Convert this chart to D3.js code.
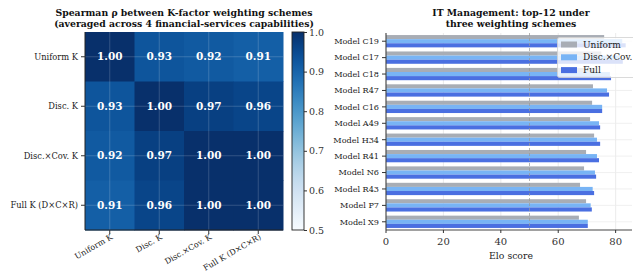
<!DOCTYPE html>
<html><head><meta charset="utf-8">
<script src="https://cdn.jsdelivr.net/npm/d3@7"></script>
<style>
html,body{margin:0;padding:0;background:#fff;}
svg{display:block;font-family:"DejaVu Serif",serif;}
</style></head>
<body><svg id="c" width="633" height="274"></svg>
<script>
// ---- data ----
const schemes = ["Uniform K", "Disc. K", "Disc.×Cov. K", "Full K (D×C×R)"];
const rho = [
  [1.00, 0.93, 0.92, 0.91],
  [0.93, 1.00, 0.97, 0.96],
  [0.92, 0.97, 1.00, 1.00],
  [0.91, 0.96, 1.00, 1.00]
];
const cbTicks = [0.5, 0.6, 0.7, 0.8, 0.9, 1.0];
const models = ["Model C19","Model C17","Model C18","Model R47","Model C16","Model A49",
                "Model H34","Model R41","Model N6","Model R43","Model P7","Model X9"];
const uniform = [76.0, 75.0, 73.0, 72.1, 71.8, 71.1, 72.5, 69.7, 69.0, 67.6, 69.7, 67.2];
const discCov = [82.3, 81.5, 78.0, 77.0, 75.3, 74.2, 73.5, 73.5, 72.8, 72.0, 71.3, 70.3];
const full    = [83.5, 82.5, 78.4, 77.7, 75.3, 74.6, 74.6, 74.2, 73.2, 72.5, 71.7, 70.3];
const seriesNames = ["Uniform", "Disc.×Cov.", "Full"];
const xTicks = [0, 20, 40, 60, 80];
const refLine = 50;

const svg = d3.select("#c");
const colors = ["#a8adb5", "#78b4f5", "#4a6fe1"];

// ---------- Heatmap ----------
const H = {l:85, r:283, t:32, b:230};
const hx = d3.scaleBand().domain(d3.range(4)).range([H.l, H.r]);
const hy = d3.scaleBand().domain(d3.range(4)).range([H.t, H.b]);
const cscale = d3.scaleSequential(d3.interpolateBlues).domain([0.5, 1.0]);
const hm = svg.append("g");
rho.forEach((row, i) => row.forEach((v, j) => {
  hm.append("rect").attr("x", hx(j)).attr("y", hy(i))
    .attr("width", hx.bandwidth()+0.5).attr("height", hy.bandwidth()+0.5)
    .attr("fill", cscale(v));
}));
d3.range(4).forEach(k => {
  hm.append("line").attr("x1", hx(k)+hx.bandwidth()/2).attr("x2", hx(k)+hx.bandwidth()/2)
    .attr("y1", H.t).attr("y2", H.b).attr("stroke", "#fff").attr("stroke-opacity", 0.22).attr("stroke-width", 0.8);
  hm.append("line").attr("y1", hy(k)+hy.bandwidth()/2).attr("y2", hy(k)+hy.bandwidth()/2)
    .attr("x1", H.l).attr("x2", H.r).attr("stroke", "#fff").attr("stroke-opacity", 0.22).attr("stroke-width", 0.8);
});
rho.forEach((row, i) => row.forEach((v, j) => {
  hm.append("text").attr("x", hx(j)+hx.bandwidth()/2).attr("y", hy(i)+hy.bandwidth()/2)
    .attr("dy", "0.35em").attr("text-anchor", "middle").attr("fill", "#fff")
    .attr("font-weight", "bold").attr("font-size", 10.5).text(v.toFixed(2));
}));
hm.append("line").attr("x1", H.l).attr("x2", H.l).attr("y1", H.t).attr("y2", H.b).attr("stroke", "#222").attr("stroke-width", 1);
hm.append("line").attr("x1", H.l).attr("x2", H.r).attr("y1", H.b).attr("y2", H.b).attr("stroke", "#222").attr("stroke-width", 1);
schemes.forEach((s, i) => {
  const y = hy(i)+hy.bandwidth()/2;
  hm.append("line").attr("x1", H.l-4).attr("x2", H.l).attr("y1", y).attr("y2", y).attr("stroke", "#333");
  hm.append("text").attr("x", H.l-7).attr("y", y).attr("dy", "0.35em").attr("text-anchor", "end")
    .attr("font-size", 8.3).attr("fill", "#222").text(s);
});
schemes.forEach((s, j) => {
  const x = hx(j)+hx.bandwidth()/2;
  hm.append("line").attr("x1", x).attr("x2", x).attr("y1", H.b).attr("y2", H.b+4).attr("stroke", "#333");
  hm.append("text").attr("transform", `translate(${x+2},${H.b+6}) rotate(-30)`)
    .attr("text-anchor", "end").attr("dy", "0.35em")
    .attr("font-size", 8).attr("fill", "#222").text(s);
});
const t1 = svg.append("text").attr("x", 184).attr("y", 16).attr("text-anchor", "middle")
  .attr("font-weight", "bold").attr("font-size", 9.3).attr("fill", "#111");
t1.append("tspan").attr("x", 184).text("Spearman ρ between K-factor weighting schemes");
t1.append("tspan").attr("x", 184).attr("dy", 10.5).text("(averaged across 4 financial-services capabilities)");

// colorbar
const CB = {l:292, r:304, t:32, b:230};
const cy = d3.scaleLinear().domain([0.5, 1.0]).range([CB.b, CB.t]);
const defs = svg.append("defs");
const grad = defs.append("linearGradient").attr("id", "cbg").attr("x1", 0).attr("x2", 0).attr("y1", 1).attr("y2", 0);
d3.range(0, 1.0001, 0.05).forEach(f => {
  grad.append("stop").attr("offset", f).attr("stop-color", cscale(0.5 + 0.5*f));
});
svg.append("rect").attr("x", CB.l).attr("y", CB.t).attr("width", CB.r-CB.l).attr("height", CB.b-CB.t)
  .attr("fill", "url(#cbg)").attr("stroke", "#222").attr("stroke-width", 0.9);
svg.append("g").attr("transform", `translate(${CB.r},0)`)
  .call(d3.axisRight(cy).tickValues(cbTicks).tickFormat(d3.format(".1f")).tickSize(3).tickPadding(2))
  .call(g => g.select(".domain").remove())
  .call(g => g.selectAll("text").attr("font-family", "DejaVu Serif").attr("font-size", 9.5).attr("fill", "#333"))
  .call(g => g.selectAll("line").attr("stroke", "#333"));

// ---------- Bar chart ----------
const B = {l:386, r:632, t:33, b:230};
const bx = d3.scaleLinear().domain([0, 85.7]).range([B.l, B.r]);
const by = d3.scaleBand().domain(models).range([B.t, B.b]).paddingOuter(0.0).paddingInner(0);
const bw = by.bandwidth();
const barH = bw * 0.25;
const bc = svg.append("g");
xTicks.forEach(t => bc.append("line").attr("x1", bx(t)).attr("x2", bx(t)).attr("y1", B.t).attr("y2", B.b)
  .attr("stroke", "#e6e6e6").attr("stroke-width", 0.8));
models.forEach(m => bc.append("line").attr("x1", B.l).attr("x2", B.r)
  .attr("y1", by(m)+bw/2).attr("y2", by(m)+bw/2).attr("stroke", "#ececec").attr("stroke-width", 0.8));
const series = [uniform, discCov, full];
series.forEach((vals, s) => {
  bc.selectAll(null).data(models).enter().append("rect")
    .attr("x", bx(0)).attr("y", (m, i) => by(m) + bw/2 - 1.5*barH + s*barH)
    .attr("width", (m, i) => bx(vals[i]) - bx(0)).attr("height", barH)
    .attr("fill", colors[s]);
});
bc.append("line").attr("x1", bx(refLine)).attr("x2", bx(refLine)).attr("y1", B.t).attr("y2", B.b)
  .attr("stroke", "#9a9a9a").attr("stroke-width", 0.9).attr("stroke-dasharray", "3,2").attr("opacity", 0.8);
bc.append("line").attr("x1", B.l).attr("x2", B.l).attr("y1", B.t).attr("y2", B.b).attr("stroke", "#444").attr("stroke-width", 1.1);
bc.append("line").attr("x1", B.l).attr("x2", B.r).attr("y1", B.b).attr("y2", B.b).attr("stroke", "#444").attr("stroke-width", 1);
models.forEach(m => {
  const y = by(m)+bw/2;
  bc.append("line").attr("x1", B.l-4).attr("x2", B.l).attr("y1", y).attr("y2", y).attr("stroke", "#333");
  bc.append("text").attr("x", B.l-7).attr("y", y).attr("dy", "0.35em").attr("text-anchor", "end")
    .attr("font-size", 8.1).attr("fill", "#222").text(m);
});
xTicks.forEach(t => {
  bc.append("line").attr("x1", bx(t)).attr("x2", bx(t)).attr("y1", B.b).attr("y2", B.b+3).attr("stroke", "#333");
  bc.append("text").attr("x", bx(t)).attr("y", B.b+15).attr("text-anchor", "middle")
    .attr("font-size", 10).attr("fill", "#333").text(t);
});
bc.append("text").attr("x", (B.l+B.r)/2 + 2).attr("y", B.b+29).attr("text-anchor", "middle")
  .attr("font-size", 9.3).attr("fill", "#222").text("Elo score");
const t2 = svg.append("text").attr("x", 511).attr("y", 16).attr("text-anchor", "middle")
  .attr("font-weight", "bold").attr("font-size", 9.3).attr("fill", "#111");
t2.append("tspan").attr("x", 511).text("IT Management: top-12 under");
t2.append("tspan").attr("x", 511).attr("dy", 10.5).text("three weighting schemes");
const lg = svg.append("g");
lg.append("rect").attr("x", 557.5).attr("y", 37.5).attr("width", 80).attr("height", 40).attr("rx", 2)
  .attr("fill", "#fff").attr("fill-opacity", 0.8).attr("stroke", "#d0d0d0").attr("stroke-width", 0.8);
seriesNames.forEach((n, i) => {
  const y = 44.5 + i*12.8;
  lg.append("rect").attr("x", 561).attr("y", y-3).attr("width", 16).attr("height", 6).attr("fill", colors[i]);
  lg.append("text").attr("x", 583).attr("y", y).attr("dy", "0.35em").attr("font-size", 9)
    .attr("fill", "#222").text(n);
});
</script></body></html>
